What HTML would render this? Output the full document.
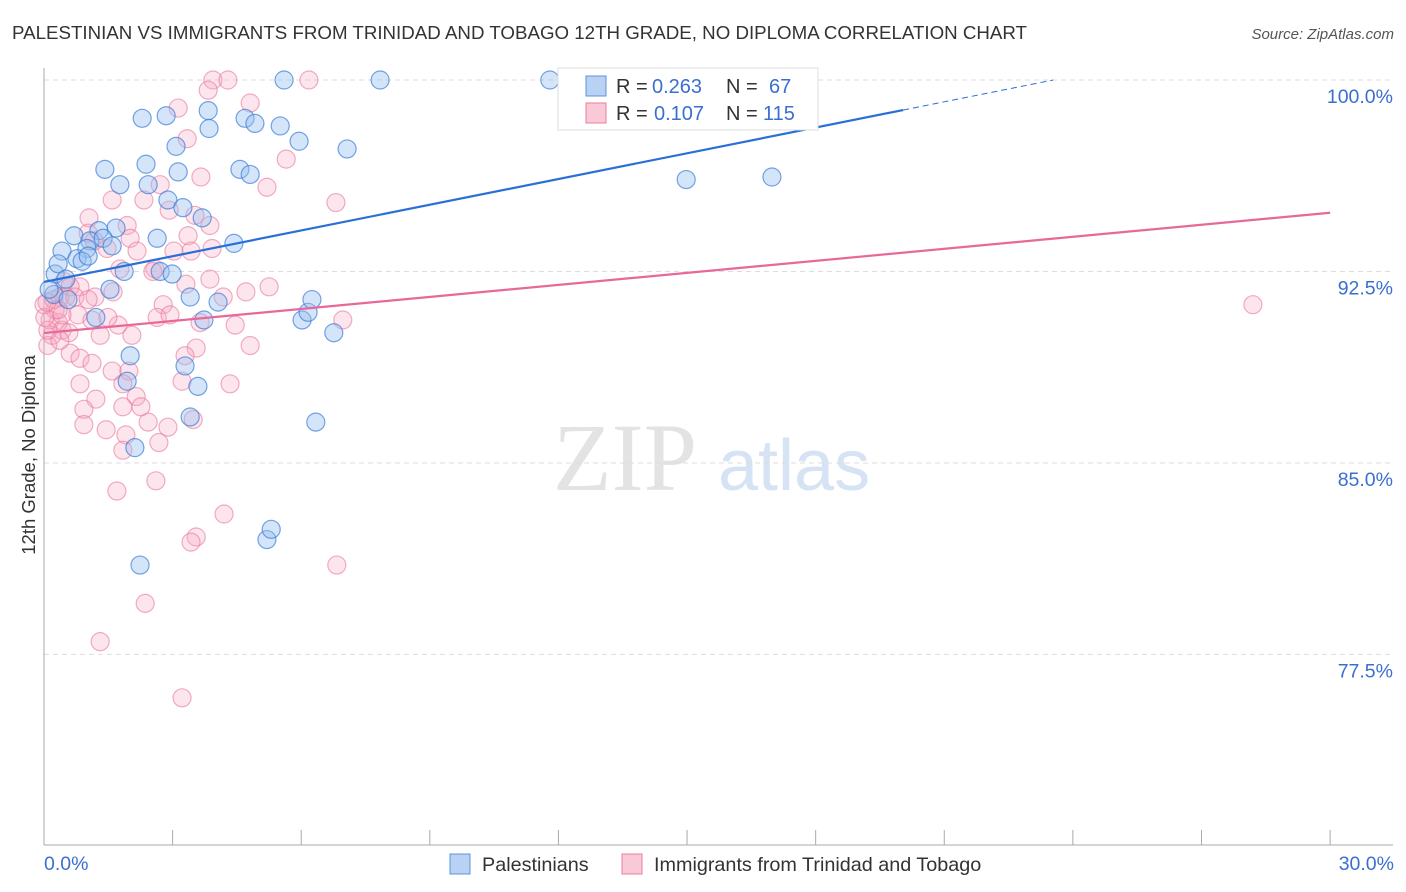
<!DOCTYPE html>
<html><head><meta charset="utf-8"><style>
body{margin:0;background:#fff;font-family:"Liberation Sans",sans-serif}
svg{display:block}
</style></head><body>
<svg id="c" width="1406" height="892" xmlns="http://www.w3.org/2000/svg">
<text x="12" y="39" font-size="18" fill="#333" textLength="1015" lengthAdjust="spacingAndGlyphs">PALESTINIAN VS IMMIGRANTS FROM TRINIDAD AND TOBAGO 12TH GRADE, NO DIPLOMA CORRELATION CHART</text>
<text x="1394" y="39" font-size="15" fill="#555" font-style="italic" text-anchor="end">Source: ZipAtlas.com</text>
<g>
<text x="553" y="490" font-size="96" fill="#e3e3e3" font-family="Liberation Serif,serif">ZIP</text>
<text x="718" y="490" font-size="72" fill="#d5e3f5">atlas</text>
</g>
<g id="grid"></g>
<g id="pts"></g>
<g id="trend"></g>
<text transform="translate(35,455) rotate(-90)" font-size="18.5" fill="#333" text-anchor="middle">12th Grade, No Diploma</text>
<text x="44" y="870" font-size="19.5" fill="#3a6fd0">0.0%</text>
<text x="1394" y="870" font-size="19.5" fill="#3a6fd0" text-anchor="end">30.0%</text>
<g>
<rect x="558" y="68" width="260" height="62" fill="#fff" stroke="#ddd"/>
<rect x="586" y="76" width="20" height="20" fill="#b9d2f3" stroke="#5b93e0"/>
<rect x="586" y="103" width="20" height="20" fill="#f9c9d7" stroke="#e8809f"/>
<text x="616" y="93" font-size="20" fill="#333">R =</text>
<text x="652" y="93" font-size="20" fill="#3a6fd0">0.263</text>
<text x="726" y="93" font-size="20" fill="#333">N =</text>
<text x="769" y="93" font-size="20" fill="#3a6fd0">67</text>
<text x="616" y="120" font-size="20" fill="#333">R =</text>
<text x="654" y="120" font-size="20" fill="#3a6fd0">0.107</text>
<text x="726" y="120" font-size="20" fill="#333">N =</text>
<text x="763" y="120" font-size="20" fill="#3a6fd0">115</text>
</g>
<g>
<rect x="450" y="854" width="20" height="20" fill="#b9d2f3" stroke="#5b93e0"/>
<text x="482" y="871" font-size="19.8" fill="#333">Palestinians</text>
<rect x="622" y="854" width="20" height="20" fill="#f9c9d7" stroke="#e8809f"/>
<text x="654" y="871" font-size="19.8" fill="#333">Immigrants from Trinidad and Tobago</text>
</g>
</svg>
<script>
const yTicks=[100,92.5,85,77.5];
const yTickLabels=["100.0%","92.5%","85.0%","77.5%"];
const xTicks=[0,3,6,9,12,15,18,21,24,27,30];
const blueX=[7.84,11.8,13.6,5.6,2.29,2.85,3.83,3.85,4.69,4.92,5.51,5.95,7.07,3.08,2.38,1.42,1.77,2.43,3.13,4.57,4.81,2.89,3.24,3.69,14.98,16.98,1.68,1.28,0.7,0.42,1.07,1.38,1.59,1.0,0.77,0.89,1.03,2.64,4.43,0.26,0.33,0.51,1.87,2.71,2.99,3.41,4.06,1.54,6.02,6.16,6.25,6.76,3.73,1.21,2.01,3.29,3.59,1.94,3.41,6.34,2.12,2.24,5.2,5.3,0.23,0.56,0.12];
const blueY=[100,100,100,100,98.5,98.6,98.8,98.1,98.5,98.3,98.2,97.6,97.3,97.4,96.7,96.5,95.9,95.9,96.4,96.5,96.3,95.3,95.0,94.6,96.1,96.2,94.2,94.1,93.9,93.3,93.7,93.8,93.5,93.4,93.0,92.9,93.1,93.8,93.6,92.4,92.8,92.2,92.5,92.5,92.4,91.5,91.3,91.8,90.6,90.9,91.4,90.1,90.6,90.7,89.2,88.8,88.0,88.2,86.8,86.6,85.6,81.0,82.0,82.4,91.6,91.4,91.8];
const pinkX=[3.94,4.29,6.18,3.83,4.81,3.13,3.34,5.65,3.66,2.71,5.2,6.81,1.59,1.05,1.94,2.01,2.33,2.92,3.52,3.87,3.36,3.43,3.03,3.92,2.59,1.03,1.17,1.47,1.77,2.17,0.47,0.84,1.61,4.71,5.25,4.18,2.78,3.31,3.87,0.37,0.61,1.19,0.33,0.19,0.14,0.42,0.09,0.79,1.12,1.31,1.73,2.05,2.64,3.64,4.46,6.97,4.81,3.55,0.61,0.84,1.12,1.59,3.29,1.98,0.84,1.21,1.84,2.15,0.26,0.0,0.09,0.23,0.93,1.84,3.22,4.34,0.93,2.43,2.89,3.48,1.45,1.91,2.68,1.84,1.70,2.61,4.2,3.55,3.43,6.83,2.36,1.31,3.22,28.2,0.51,0.72,0.42,0.33,0.58,0.02,0.07,1.03,1.49,2.26,2.54,2.94,0.37];
const pinkY=[100,100,100,99.6,99.1,98.9,97.7,96.9,96.2,95.9,95.8,95.2,95.3,94.6,94.3,93.8,95.3,94.9,94.7,94.3,93.9,93.3,93.3,93.4,92.6,94.0,93.7,93.4,92.6,93.3,92.1,91.9,91.7,91.7,91.9,91.5,91.2,92.0,92.2,91.5,91.9,91.5,90.5,90.0,90.6,90.2,89.6,90.8,90.6,90.0,90.4,90.0,90.7,90.5,90.4,90.6,89.6,89.5,89.3,89.1,88.9,88.6,89.2,88.6,88.1,87.5,88.1,87.6,91.0,91.2,90.2,91.4,87.1,87.2,88.2,88.1,86.5,86.6,86.4,86.7,86.3,86.1,85.8,85.5,83.9,84.3,83.0,82.1,81.9,81.0,79.5,78.0,75.8,91.2,91.5,91.5,90.8,91.0,90.1,90.7,91.3,91.4,90.7,87.2,92.5,90.8,89.8];
const blueTrend=[92.09,0.336];
const pinkTrend=[90.09,0.157];
const NS='http://www.w3.org/2000/svg';
const X=v=>44+v*42.87, Y=v=>80+(100-v)*25.53;
function mk(t,a,p){const e=document.createElementNS(NS,t);for(const k in a)e.setAttribute(k,a[k]);p.appendChild(e);return e;}
const grid=document.getElementById('grid');
yTicks.forEach((v,i)=>{
 const l=mk('line',{x1:44,x2:1393,y1:Y(v),y2:Y(v),stroke:'#ddd','stroke-dasharray':'5,4'},grid);
 
 
 const t=mk('text',{x:1393,y:Y(v)+23,'font-size':19.5,fill:'#3a6fd0','text-anchor':'end'},grid);
 t.textContent=yTickLabels[i];
 
 
});
const ax=mk('line',{x1:44,x2:44,y1:68,y2:845,stroke:'#aaa'},grid);


const bx=mk('line',{x1:44,x2:1393,y1:845,y2:845,stroke:'#aaa'},grid);


xTicks.forEach(v=>{
 const t=mk('line',{x1:X(v),x2:X(v),y1:830,y2:845,stroke:'#aaa'},grid);
 
 
});
const pts=document.getElementById('pts');
pinkX.forEach((x,i)=>{
 const c=mk('circle',{cx:X(x),cy:Y(pinkY[i]),r:9,fill:'rgba(247,170,195,0.3)',stroke:'rgba(232,120,155,0.6)','stroke-width':1.2},pts);
 
 
});
blueX.forEach((x,i)=>{
 const c=mk('circle',{cx:X(x),cy:Y(blueY[i]),r:9,fill:'rgba(150,190,240,0.4)',stroke:'rgba(60,125,215,0.7)','stroke-width':1.2},pts);
 
 
});
const tr=document.getElementById('trend');
const bEnd=20.04, bDash=(100-blueTrend[0])/blueTrend[1];
const l1=mk('line',{x1:X(0),y1:Y(blueTrend[0]),x2:X(bEnd),y2:Y(blueTrend[0]+blueTrend[1]*bEnd),stroke:'#2a6fd6','stroke-width':2.2},tr);


const l2=mk('line',{x1:X(bEnd),y1:Y(blueTrend[0]+blueTrend[1]*bEnd),x2:X(bDash),y2:Y(100),stroke:'#2a6fd6','stroke-width':1,'stroke-dasharray':'6,4'},tr);


const l3=mk('line',{x1:X(0),y1:Y(pinkTrend[0]),x2:X(30),y2:Y(pinkTrend[0]+pinkTrend[1]*30),stroke:'#e8689a','stroke-width':2.2},tr);


</script>
</body></html>
